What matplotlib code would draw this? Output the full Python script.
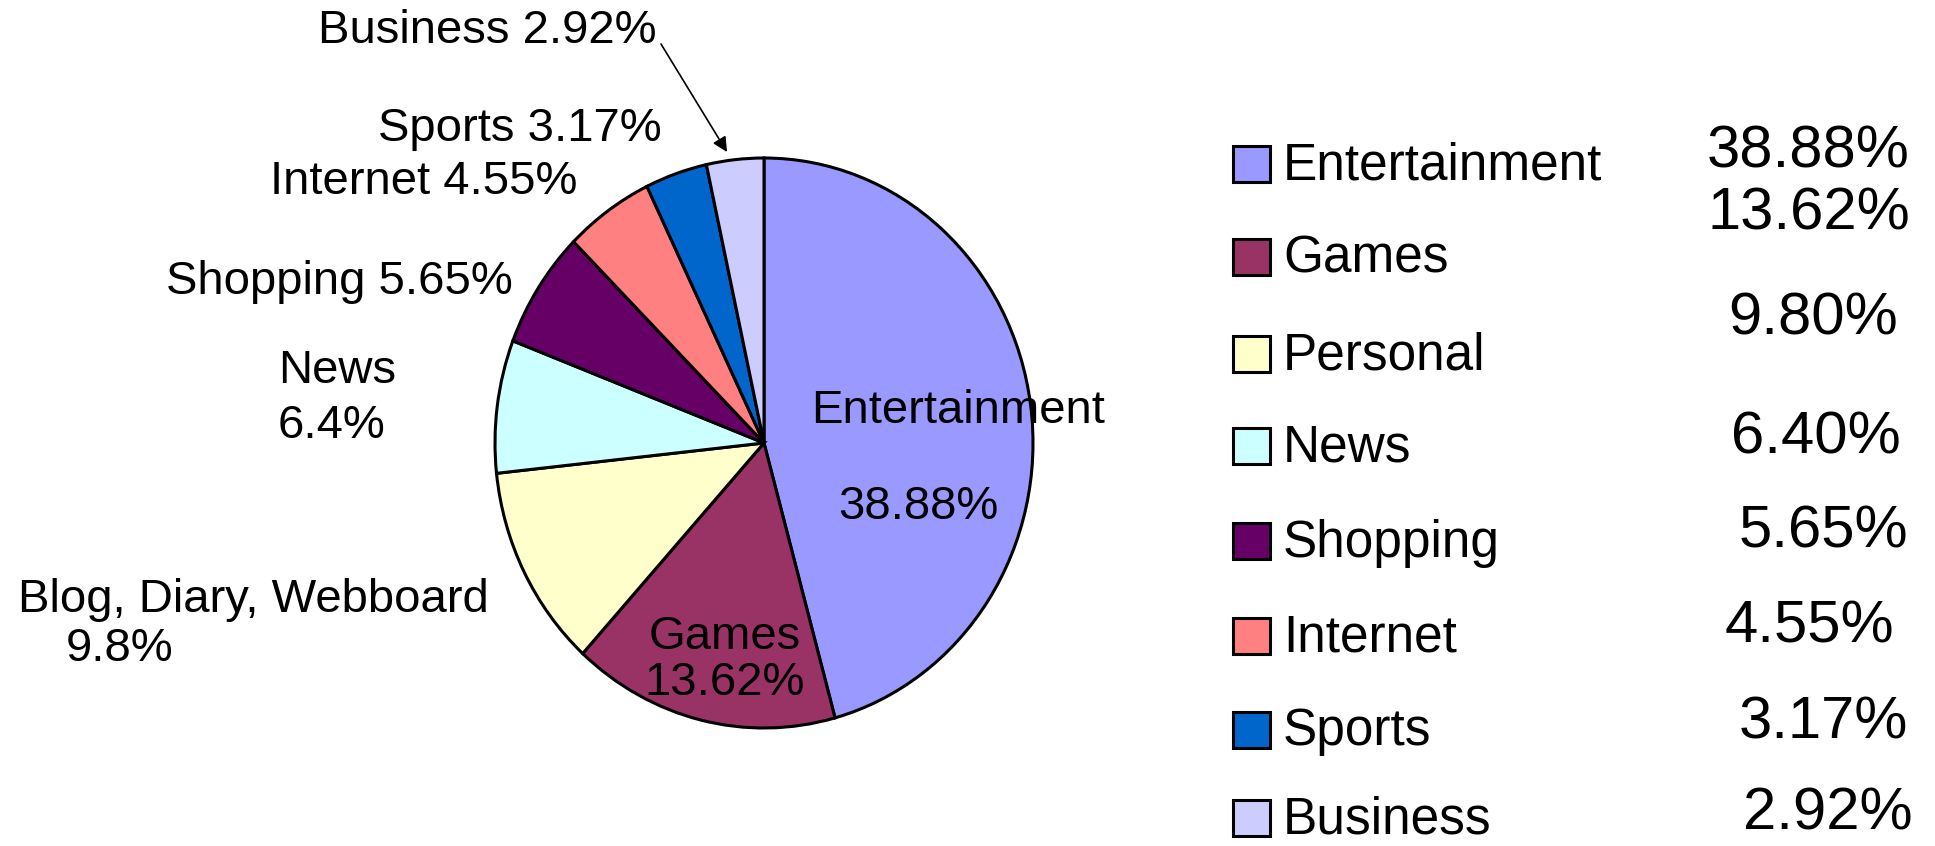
import matplotlib.pyplot as plt
from matplotlib.patches import Rectangle

# category data
legend_names = ['Entertainment', 'Games', 'Personal', 'News', 'Shopping',
                'Internet', 'Sports', 'Business']
pie_names = ['Entertainment', 'Games', 'Blog, Diary, Webboard', 'News',
             'Shopping', 'Internet', 'Sports', 'Business']
shares = [38.88, 13.62, 9.80, 6.40, 5.65, 4.55, 3.17, 2.92]
pie_text = ['38.88%', '13.62%', '9.8%', '6.4%', '5.65%', '4.55%', '3.17%', '2.92%']
legend_text = ['38.88%', '13.62%', '9.80%', '6.40%', '5.65%', '4.55%', '3.17%', '2.92%']
colors = ['#9999FF', '#993366', '#FFFFCC', '#CCFFFF', '#660066',
          '#FF8080', '#0066CC', '#CCCCFF']

plt.rcParams['font.family'] = ['Liberation Sans', 'DejaVu Sans']

W, H = 1935, 846
fig = plt.figure(figsize=(W / 100, H / 100), dpi=100)

# pie axes, placed in pixels (slightly taller than wide, like the original)
cx, cy, rx, ry = 764, 443, 269, 285
ax = fig.add_axes([(cx - rx) / W, (H - cy - ry) / H, 2 * rx / W, 2 * ry / H])
wedges, _ = ax.pie(shares, colors=colors, startangle=90, counterclock=False,
                   wedgeprops=dict(edgecolor='black', linewidth=2.2))
ax.set_aspect('auto')
ax.set_xlim(-1, 1)
ax.set_ylim(-1, 1)
ax.axis('off')

# overlay axes in pixel coordinates for the labels and legend
ov = fig.add_axes([0, 0, 1, 1])
ov.set_xlim(0, W)
ov.set_ylim(H, 0)
ov.axis('off')
fs = 34

# labels inside the pie
ov.text(958, 411, pie_names[0], fontsize=fs, ha='center', va='center')
ov.text(918, 507, pie_text[0], fontsize=fs, ha='center', va='center')
ov.text(725, 637, pie_names[1], fontsize=fs, ha='center', va='center')
ov.text(725, 683, pie_text[1], fontsize=fs, ha='center', va='center')

# labels outside
ov.text(253, 600, pie_names[2], fontsize=fs, ha='center', va='center')
ov.text(120, 649, pie_text[2], fontsize=fs, ha='center', va='center')
ov.text(278, 371, pie_names[3], fontsize=fs, ha='left', va='center')
ov.text(278, 426, pie_text[3], fontsize=fs, ha='left', va='center')
ov.text(339, 282, pie_names[4] + ' ' + pie_text[4], fontsize=fs, ha='center', va='center')
ov.text(424, 182, pie_names[5] + ' ' + pie_text[5], fontsize=fs, ha='center', va='center')
ov.text(520, 129, pie_names[6] + ' ' + pie_text[6], fontsize=fs, ha='center', va='center')
ov.text(487, 31, pie_names[7] + ' ' + pie_text[7], fontsize=fs, ha='center', va='center')
ov.annotate('', xy=(727, 152), xytext=(661, 44),
            arrowprops=dict(arrowstyle='-|>', color='black', lw=1.2,
                            mutation_scale=22, shrinkA=0, shrinkB=0))

# legend on the right
row_y = [166, 259, 356, 448, 543, 638, 732, 820]
val_y = [152, 214, 319, 438, 532, 627, 723, 814]
val_x = [1910, 1910, 1898, 1901, 1908, 1894, 1908, 1913]
for i, name in enumerate(legend_names):
    ov.add_patch(Rectangle((1233, row_y[i] - 20), 37, 36, facecolor=colors[i],
                           edgecolor='black', linewidth=2.2))
    ov.text(1283, row_y[i], name, fontsize=37, ha='left', va='center')
    ov.text(val_x[i], val_y[i], legend_text[i], fontsize=43, ha='right', va='center')

fig.savefig('out.png', dpi=100)
